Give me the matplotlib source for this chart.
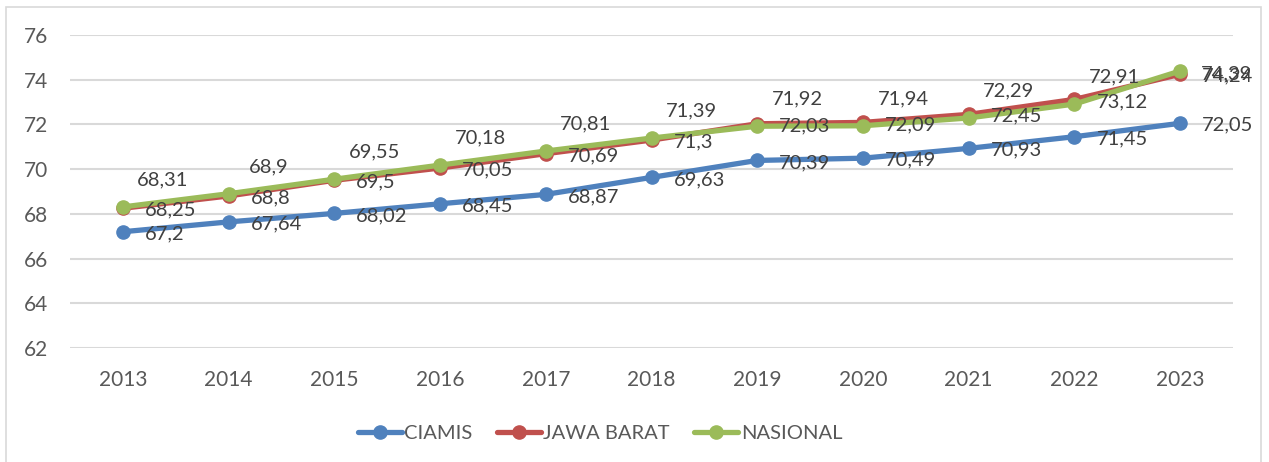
import matplotlib
matplotlib.use("Agg")
import matplotlib.pyplot as plt
from matplotlib.patches import Rectangle

plt.rcParams['font.family'] = ['Lato', 'DejaVu Sans']

years = ['2013', '2014', '2015', '2016', '2017', '2018', '2019', '2020', '2021', '2022', '2023']
ciamis = [67.2, 67.64, 68.02, 68.45, 68.87, 69.63, 70.39, 70.49, 70.93, 71.45, 72.05]
jawa_barat = [68.25, 68.8, 69.5, 70.05, 70.69, 71.3, 72.03, 72.09, 72.45, 73.12, 74.24]
nasional = [68.31, 68.9, 69.55, 70.18, 70.81, 71.39, 71.92, 71.94, 72.29, 72.91, 74.39]
y_ticks = [62, 64, 66, 68, 70, 72, 74, 76]

W, H = 1269, 462
fig = plt.figure(figsize=(W / 100, H / 100), dpi=100)
ax = fig.add_axes([70 / W, (H - 348) / H, (1233 - 70) / W, (348 - 35) / H])

# border round the whole chart
fig.patches.append(Rectangle((6 / W, -0.01), (1261 - 6) / W, (H - 7) / H + 0.01,
                             transform=fig.transFigure, fill=False,
                             edgecolor='#d9d9d9', linewidth=1.2))

x = list(range(len(years)))
series = [('CIAMIS', ciamis, '#4f81bd'),
          ('JAWA BARAT', jawa_barat, '#c0504d'),
          ('NASIONAL', nasional, '#9bbb59')]

for name, vals, col in series:
    ax.plot(x, vals, color=col, linewidth=3.8, marker='o', markersize=9.5,
            solid_capstyle='round', label=name, zorder=3)

lab_kw = dict(fontsize=14.5, color='#404040', textcoords='offset pixels', zorder=5)

# CIAMIS and JAWA BARAT labels sit right of the point
for vals in (ciamis, jawa_barat):
    for i, v in enumerate(vals):
        ax.annotate(str(v).replace('.', ','), (i, v), xytext=(22, -2),
                    ha='left', va='center', **lab_kw)

# NASIONAL labels above, last one to the right
for i, v in enumerate(nasional):
    txt = str(v).replace('.', ',')
    if i == len(nasional) - 1:
        ax.annotate(txt, (i, v), xytext=(21, -3), ha='left', va='center', **lab_kw)
    else:
        ax.annotate(txt, (i, v), xytext=(40, 27), ha='center', va='center', **lab_kw)

ax.set_xlim(-0.5, len(years) - 0.5)
ax.set_ylim(62, 76)
ax.set_yticks(y_ticks)
ax.set_xticks(x)
ax.set_xticklabels(years)
ax.grid(axis='y', color='#d9d9d9', linewidth=1.5, zorder=0)
ax.set_axisbelow(True)
for s in ax.spines.values():
    s.set_visible(False)
ax.tick_params(axis='both', length=0, labelsize=15, colors='#595959')
ax.tick_params(axis='x', pad=16)
ax.tick_params(axis='y', pad=16)

fig.legend(loc='center', bbox_to_anchor=(600 / W, (H - 433) / H), ncol=3,
           frameon=False, fontsize=14.5, labelcolor='#595959',
           handlelength=2.2, handletextpad=0.12, columnspacing=1.2)

fig.savefig('out.png', dpi=100)
